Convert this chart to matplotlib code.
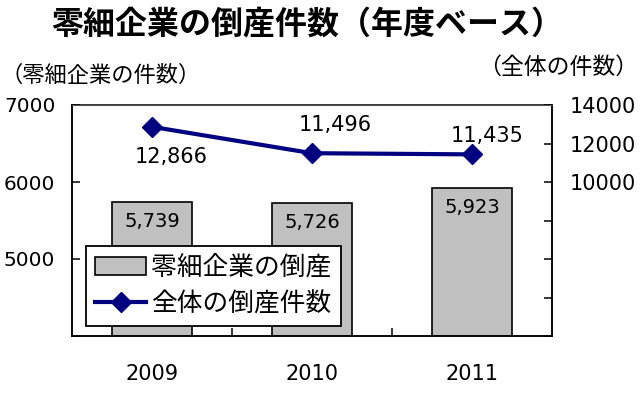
import matplotlib
matplotlib.use("Agg")
import matplotlib.pyplot as plt
from matplotlib.patches import Patch
from matplotlib.lines import Line2D

years = ["2009", "2010", "2011"]
small_firms = [5739, 5726, 5923]
all_firms = [12866, 11496, 11435]

left_ticks = [4000, 5000, 6000, 7000]
left_labels = ["", "5000", "6000", "7000"]
right_ticks = [2000, 4000, 6000, 8000, 10000, 12000, 14000]
right_labels = ["", "", "", "", "10000", "12000", "14000"]

title = "零細企業の倒産件数（年度ベース）"
left_title = "（零細企業の件数）"
right_title = "（全体の件数）"
bar_name = "零細企業の倒産"
line_name = "全体の倒産件数"

JP = ["Noto Sans CJK JP", "DejaVu Sans"]
plt.rcParams["font.family"] = ["DejaVu Sans", "Noto Sans CJK JP"]

fig = plt.figure(figsize=(6.4, 4.0), dpi=100)
ax = fig.add_axes([0.1125, 0.16, 0.75, 0.5775])
ax2 = ax.twinx()

x = list(range(len(years)))
ax.bar(x, small_firms, width=0.5, color="#c0c0c0", edgecolor="black", linewidth=1.2, zorder=2)
for xi, v in zip(x, small_firms):
    ax.annotate(f"{v:,}", (xi, v), xytext=(0, -14), textcoords="offset points",
                ha="center", va="center", fontsize=14, zorder=3)

ax2.plot(x, all_firms, color="#000080", linewidth=3, marker="D", markersize=10, zorder=3)
offsets = [(14, -22), (17, 20), (11, 13)]
for xi, v, off in zip(x, all_firms, offsets):
    ax2.annotate(f"{v:,}", (xi, v), xytext=off, textcoords="offset points",
                 ha="center", va="center", fontsize=15)

ax.set_xlim(-0.5, 2.5)
ax.set_ylim(4000, 7000)
ax2.set_ylim(2000, 14000)

ax.set_xticks(x)
ax.set_xticklabels(years, fontsize=15)
ax.set_xticks([0.5, 1.5], minor=True)
ax.tick_params(axis="x", which="major", length=0, pad=20)
ax.tick_params(axis="x", which="minor", direction="in", length=6, width=1.1)

ax.set_yticks(left_ticks)
ax.set_yticklabels(left_labels, fontsize=14.5)
ax.tick_params(axis="y", direction="in", length=6, width=1.1, pad=12)

ax2.set_yticks(right_ticks)
ax2.set_yticklabels(right_labels, fontsize=15)
ax2.tick_params(axis="y", direction="in", length=6, width=1.1, pad=13)

for a in (ax, ax2):
    for s in a.spines.values():
        s.set_linewidth(1.1)
ax2.spines["top"].set_color("#555555")
ax2.spines["top"].set_linewidth(0.8)

handles = [
    Patch(facecolor="#c0c0c0", edgecolor="black", linewidth=1.2),
    Line2D([0], [0], color="#000080", linewidth=3, marker="D", markersize=10),
]
leg = ax2.legend(handles, [bar_name, line_name], loc="lower left",
                 bbox_to_anchor=(0.029, 0.043), borderaxespad=0,
                 prop={"family": JP, "size": 18.5}, fancybox=False,
                 edgecolor="black", framealpha=1, handlelength=2.0,
                 handletextpad=0.2, borderpad=0.35, labelspacing=0.4)
leg.get_frame().set_linewidth(1.3)

fig.text(0.48, 0.937, title, ha="center", va="center", fontsize=23,
         fontweight="bold", family=JP)
fig.text(0.0, 0.8125, left_title, ha="left", va="center", fontsize=16, family=JP)
fig.text(0.997, 0.8325, right_title, ha="right", va="center", fontsize=16.5, family=JP)

fig.savefig("out.png", dpi=100)
